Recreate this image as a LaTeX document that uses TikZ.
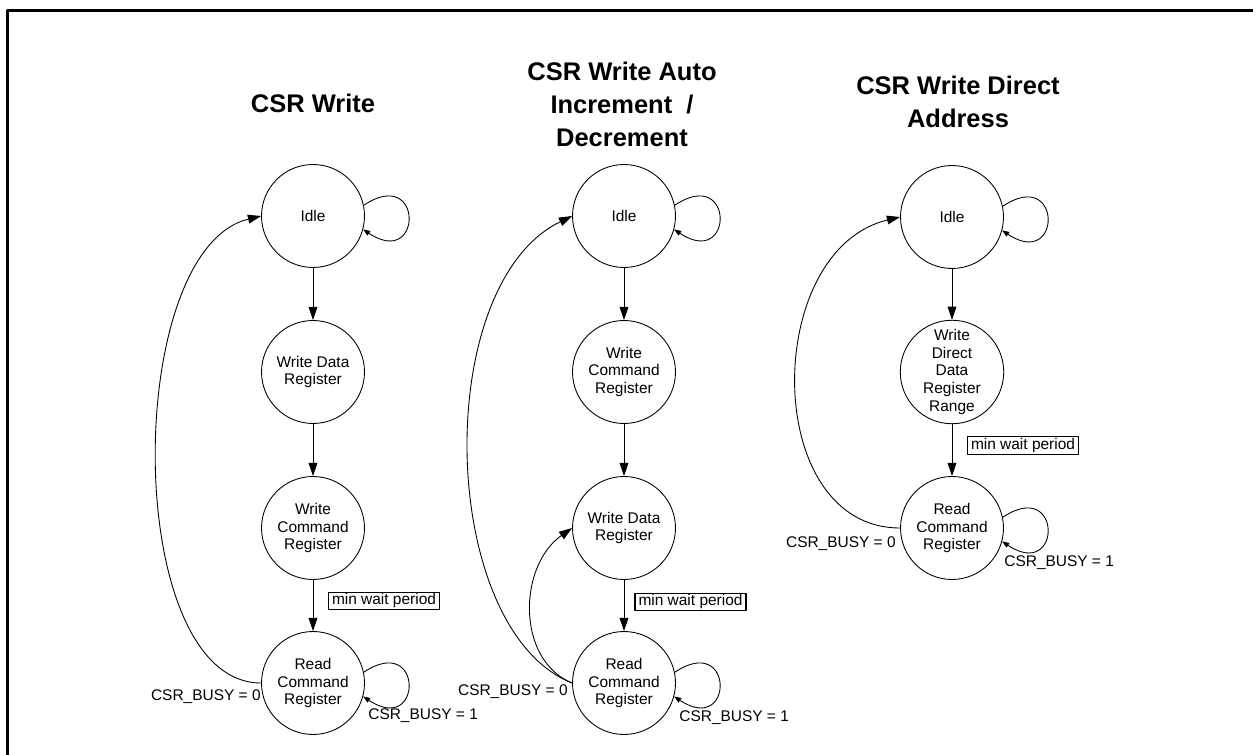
\documentclass[tikz,border=0pt]{standalone}
\usepackage{fontspec}
\setmainfont{Liberation Sans}
\usetikzlibrary{arrows.meta}

\begin{document}
\begin{tikzpicture}[line cap=round,line join=round,x=0.02cm,y=0.02cm,
		>={Triangle[length=7.5pt,width=5pt]},
		state/.style={draw,circle,line width=0.5pt,minimum size=2.06cm,inner sep=0pt,align=center,font=\fontsize{8.8}{10.2}\selectfont},
		heading/.style={anchor=base,align=center,font=\fontsize{14.5}{18.8}\selectfont\bfseries},
		waitbox/.style={draw,line width=0.6pt,inner xsep=2pt,inner ysep=0.8pt,font=\fontsize{8.8}{10.2}\selectfont},
		cond/.style={inner sep=0pt,font=\fontsize{8.8}{10.2}\selectfont},
		trans/.style={->,line width=0.5pt},
		selfloop/.style={-{Triangle[length=4pt,width=3pt]},line width=0.5pt}]
	\clip (0,0) rectangle (1253,754);
	\draw [line width=1.4pt] (7.7,-10) -- (7.7,743.7) -- (1270,743.7);
	% CSR Write
	\node[heading] (t1) at (313,641) {CSR Write};
	\node[state] (I1) at (313,538) {Idle};
	\node[state] (D1) at (313,382) {Write Data\\Register};
	\node[state] (C1) at (313,226) {Write\\Command\\Register};
	\node[state] (R1) at (313,71) {Read\\Command\\Register};
	\node[waitbox] (m1) at (384,153) {min wait period};
	\node[cond,anchor=east] (z1) at (261,57) {CSR\_BUSY = 0};
	\node[cond,anchor=west] (o1) at (368,38) {CSR\_BUSY = 1};
	\draw[trans] (I1) -- (D1);
	\draw[trans] (D1) -- (C1);
	\draw[trans] (C1) -- (R1);
	\draw[trans] (R1.west) .. controls +(-139,0) and +(-139,-34) .. (I1.west);
	\draw[selfloop] (I1.12) .. controls +(60,40) and +(60,-40) .. (I1.-15);
	\draw[selfloop] (R1.12) .. controls +(60,40) and +(60,-40) .. (R1.-15);
	% CSR Write Auto Increment / Decrement
	\node[heading] (t2) at (622,607) {CSR Write Auto\\Increment \ /\\Decrement};
	\node[state] (I2) at (624,538) {Idle};
	\node[state] (C2) at (624,382) {Write\\Command\\Register};
	\node[state] (D2) at (624,226) {Write Data\\Register};
	\node[state] (R2) at (624,71) {Read\\Command\\Register};
	\node[waitbox] (m2) at (690.5,152) {min wait period};
	\node[cond,anchor=east] (z2) at (568,62) {CSR\_BUSY = 0};
	\node[cond,anchor=west] (o2) at (679,36) {CSR\_BUSY = 1};
	\draw[trans] (I2) -- (C2);
	\draw[trans] (C2) -- (D2);
	\draw[trans] (D2) -- (R2);
	\draw[trans] (R2.west) .. controls +(-134,53) and +(-142,-69) .. (I2.west);
	\draw[trans] (R2.west) .. controls +(-56,23) and +(-54,-38) .. (D2.west);
	\draw[selfloop] (I2.12) .. controls +(60,40) and +(60,-40) .. (I2.-15);
	\draw[selfloop] (R2.12) .. controls +(60,40) and +(60,-40) .. (R2.-15);
	% CSR Write Direct Address
	\node[heading] (t3) at (958,626) {CSR Write Direct\\Address};
	\node[state] (I3) at (952,537) {Idle};
	\node[state] (W3) at (952,382) {Write\\Direct\\Data\\Register\\Range};
	\node[state] (R3) at (952,226) {Read\\Command\\Register};
	\node[waitbox] (m3) at (1023,308.5) {min wait period};
	\node[cond,anchor=east] (z3) at (896,210) {CSR\_BUSY = 0};
	\node[cond,anchor=west] (o3) at (1004,191) {CSR\_BUSY = 1};
	\draw[trans] (I3) -- (W3);
	\draw[trans] (W3) -- (R3);
	\draw[trans] (R3.west) .. controls +(-139,0) and +(-138,-33) .. (I3.west);
	\draw[selfloop] (I3.12) .. controls +(60,40) and +(60,-40) .. (I3.-15);
	\draw[selfloop] (R3.12) .. controls +(60,40) and +(60,-40) .. (R3.-15);
\end{tikzpicture}
\end{document}
